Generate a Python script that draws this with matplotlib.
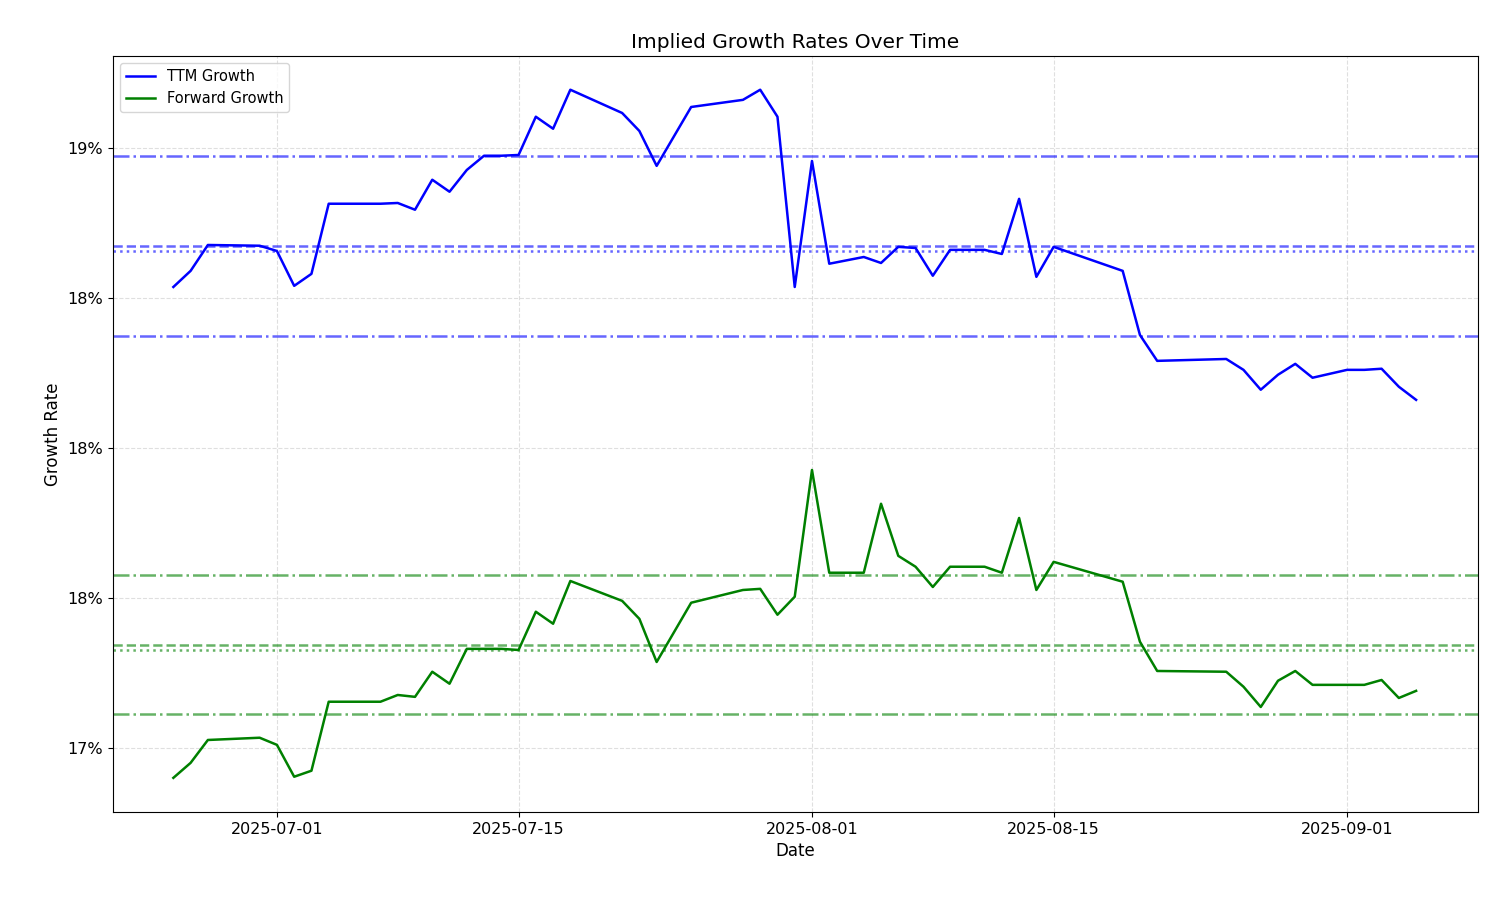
import matplotlib
matplotlib.use("Agg")
import matplotlib.pyplot as plt
import matplotlib.dates as mdates
from matplotlib.ticker import PercentFormatter
import pandas as pd

dates = ["2025-06-25","2025-06-26","2025-06-27","2025-06-30","2025-07-01","2025-07-02","2025-07-03","2025-07-04",
         "2025-07-07","2025-07-08","2025-07-09","2025-07-10","2025-07-11","2025-07-12","2025-07-13","2025-07-14",
         "2025-07-15","2025-07-16","2025-07-17","2025-07-18","2025-07-21","2025-07-22","2025-07-23","2025-07-25",
         "2025-07-28","2025-07-29","2025-07-30","2025-07-31","2025-08-01","2025-08-02","2025-08-04","2025-08-05",
         "2025-08-06","2025-08-07","2025-08-08","2025-08-09","2025-08-11","2025-08-12","2025-08-13","2025-08-14",
         "2025-08-15","2025-08-19","2025-08-20","2025-08-21","2025-08-25","2025-08-26","2025-08-27","2025-08-28",
         "2025-08-29","2025-08-30","2025-09-01","2025-09-02","2025-09-03","2025-09-04","2025-09-05"]
ttm = [18.429,18.472,18.541,18.539,18.525,18.432,18.464,18.651,18.651,18.653,18.635,18.715,18.683,18.741,18.779,18.779,
       18.781,18.883,18.851,18.955,18.893,18.845,18.752,18.909,18.928,18.955,18.883,18.429,18.765,18.491,18.509,18.493,
       18.536,18.533,18.459,18.528,18.528,18.517,18.664,18.456,18.536,18.472,18.301,18.232,18.237,18.208,18.155,18.195,
       18.224,18.187,18.208,18.208,18.211,18.163,18.128]
fwd = [17.120,17.160,17.221,17.227,17.208,17.123,17.139,17.323,17.323,17.341,17.336,17.403,17.371,17.464,17.464,17.464,
       17.461,17.563,17.531,17.645,17.592,17.544,17.429,17.587,17.621,17.624,17.555,17.603,17.941,17.667,17.667,17.851,
       17.712,17.683,17.629,17.683,17.683,17.667,17.813,17.621,17.696,17.643,17.483,17.405,17.403,17.363,17.309,17.379,
       17.405,17.368,17.368,17.368,17.381,17.333,17.352]
ttm_refs = [18.779, 18.539, 18.525, 18.299]
fwd_refs = [17.661, 17.475, 17.461, 17.291]
ref_styles = ["-.", "--", ":", "-."]
yticks = [17.2, 17.6, 18.0, 18.4, 18.8]
xticks = ["2025-07-01","2025-07-15","2025-08-01","2025-08-15","2025-09-01"]

x = pd.to_datetime(dates)
fig = plt.figure(figsize=(15, 9), dpi=100)
ax = fig.add_axes([0.0753, 0.0978, 0.91, 0.84])
ax.plot(x, ttm, color="blue", lw=1.8, label="TTM Growth")
ax.plot(x, fwd, color="green", lw=1.8, label="Forward Growth")
for v, s in zip(ttm_refs, ref_styles):
    ax.axhline(v, color="blue", alpha=0.6, ls=s, lw=1.8)
for v, s in zip(fwd_refs, ref_styles):
    ax.axhline(v, color="green", alpha=0.6, ls=s, lw=1.8)
ax.set_ylim(17.029, 19.045)
ax.set_xlim(pd.Timestamp("2025-06-21 12:00"), pd.Timestamp("2025-09-08 14:00"))
ax.set_yticks(yticks)
ax.yaxis.set_major_formatter(PercentFormatter(100, decimals=0))
ax.set_xticks(pd.to_datetime(xticks))
ax.xaxis.set_major_formatter(mdates.DateFormatter("%Y-%m-%d"))
ax.tick_params(labelsize=11.5)
ax.grid(True, ls="--", alpha=0.4)
ax.set_title("Implied Growth Rates Over Time", fontsize=14.5)
ax.set_xlabel("Date", fontsize=12)
ax.set_ylabel("Growth Rate", fontsize=12)
ax.legend(loc="upper left", fontsize=10.5)
fig.savefig("out.png")
